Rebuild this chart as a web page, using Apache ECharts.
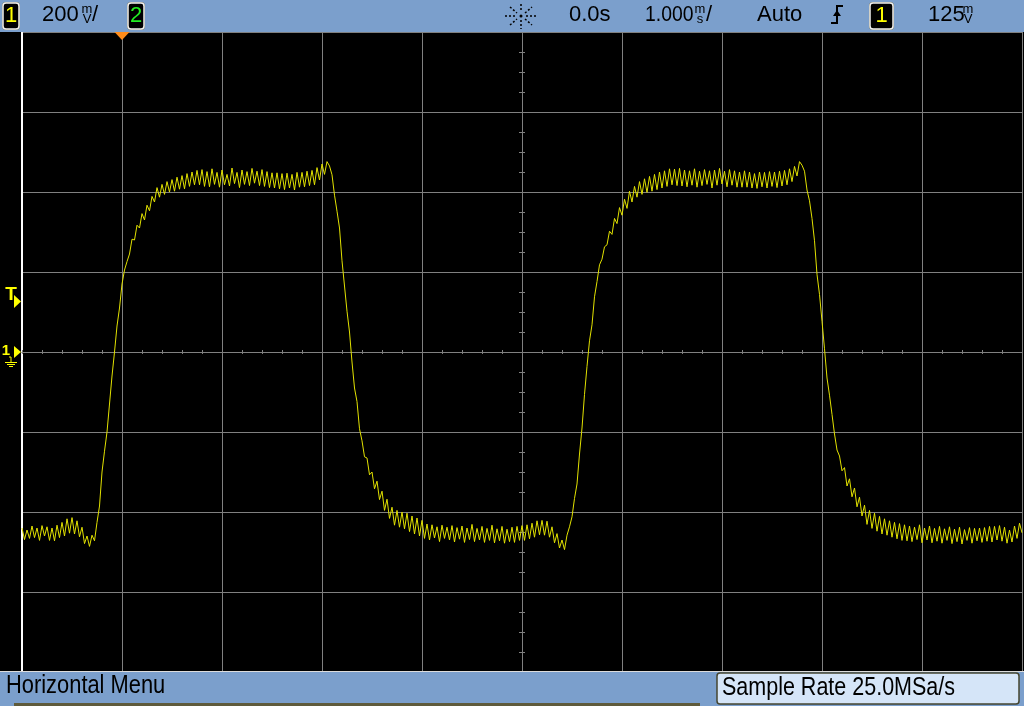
<!DOCTYPE html>
<html>
<head>
<meta charset="utf-8">
<title>Channel 1 capture</title>
<script src="https://cdn.jsdelivr.net/npm/echarts@6/dist/echarts.min.js"></script>
<style>
  html, body { margin: 0; padding: 0; background: #000; }
  #scope { width: 1024px; height: 706px; }
</style>
</head>
<body>
<div id="scope"></div>
<script>
// screen: 10 div x 1 ms, 8 div x 200 mV, trigger one division from the left
const timeRangeMs = [-1, 9]
const timePerDivMs = 1
const voltRangeMv = [-800, 800]
const voltPerDivMv = 200
const triggerLevelMv = 125

// channel 1 trace, one sample every 0.025 ms from -1 ms
const sampleStartMs = -1
const sampleStepMs = 0.025
const ch1Mv = [
  -440, -469, -445, -466, -435, -464, -440, -471, -434, -460,
  -437, -471, -440, -472, -433, -464, -426, -460, -417, -453,
  -414, -455, -422, -462, -438, -479, -460, -486, -458, -472,
  -426, -385, -300, -248, -200, -130, -60, 0, 65, 110,
  170, 205, 226, 245, 282, 280, 317, 310, 346, 330,
  367, 353, 389, 375, 411, 387, 419, 394, 426, 400,
  431, 402, 437, 407, 441, 408, 446, 414, 450, 418,
  454, 418, 456, 414, 451, 413, 458, 419, 449, 412,
  455, 418, 444, 415, 460, 421, 449, 411, 455, 419,
  451, 416, 459, 422, 452, 416, 456, 414, 451, 411,
  448, 410, 448, 408, 446, 406, 447, 410, 444, 405,
  449, 412, 449, 413, 452, 416, 454, 418, 461, 430,
  470, 444, 476, 465, 443, 392, 352, 310, 228, 165,
  102, 50, -25, -90, -124, -192, -222, -262, -265, -307,
  -300, -342, -323, -369, -348, -396, -368, -416, -388, -433,
  -396, -438, -400, -442, -403, -449, -410, -455, -415, -460,
  -421, -466, -430, -470, -432, -465, -437, -474, -433, -466,
  -438, -470, -434, -475, -439, -468, -435, -476, -440, -469,
  -431, -474, -441, -470, -436, -476, -441, -471, -433, -477,
  -442, -472, -436, -478, -443, -474, -438, -476, -436, -471,
  -434, -471, -432, -467, -428, -463, -422, -457, -421, -458,
  -423, -463, -437, -477, -454, -490, -470, -494, -458, -437,
  -412, -366, -330, -255, -190, -106, -36, 28, 68, 138,
  176, 218, 232, 263, 268, 302, 294, 334, 321, 361,
  342, 382, 359, 402, 375, 414, 387, 426, 394, 433,
  399, 439, 402, 444, 406, 450, 410, 453, 414, 458,
  418, 457, 416, 459, 415, 455, 413, 453, 417, 458,
  412, 452, 416, 456, 419, 453, 410, 455, 417, 459,
  420, 452, 413, 456, 417, 453, 412, 450, 412, 453,
  412, 450, 410, 446, 409, 450, 413, 449, 410, 451,
  414, 450, 411, 452, 415, 454, 418, 458, 426, 464,
  440, 476, 467, 452, 405, 378, 334, 278, 194, 144,
  77, 8, -65, -108, -156, -205, -245, -260, -297, -289,
  -335, -317, -362, -340, -387, -363, -410, -383, -431, -396,
  -441, -403, -448, -411, -455, -417, -458, -422, -463, -426,
  -467, -429, -471, -432, -472, -435, -474, -438, -469, -432,
  -477, -440, -470, -435, -477, -441, -473, -436, -478, -442,
  -471, -437, -479, -443, -474, -438, -480, -444, -471, -439,
  -478, -441, -472, -440, -476, -439, -473, -436, -475, -436,
  -470, -434, -473, -438, -478, -445, -475, -435, -466, -428,
  -452
]

const points = ch1Mv.map((v, i) => [sampleStartMs + i * sampleStepMs, v])

const gridGray = '#808080'
const barBlue = '#7b9fcc'
const traceYellow = '#e2e200'
const fontFamily = "'Liberation Sans', Arial, sans-serif"

const chart = echarts.init(document.getElementById('scope'))

// center cross ticks: 5 per time div, 4 per volt div, on both sides
function timeAxis(position, withGrid) {
  return {
    type: 'value',
    min: timeRangeMs[0],
    max: timeRangeMs[1],
    interval: timePerDivMs,
    position: position,
    axisLine: { show: true, onZero: true, lineStyle: { color: gridGray, width: 1 } },
    axisTick: { show: true, length: 2, lineStyle: { color: gridGray } },
    minorTick: { show: true, splitNumber: 5, length: 2, lineStyle: { color: gridGray } },
    axisLabel: { show: false },
    splitLine: { show: withGrid, lineStyle: { color: gridGray, width: 1 } }
  }
}

function voltTickAxis(position) {
  return {
    type: 'value',
    min: voltRangeMv[0],
    max: voltRangeMv[1],
    interval: voltPerDivMv,
    position: position,
    offset: -500,
    axisLine: { show: true, onZero: false, lineStyle: { color: gridGray, width: 1 } },
    axisTick: { show: true, length: 3, lineStyle: { color: gridGray } },
    minorTick: { show: true, splitNumber: 4, length: 3, lineStyle: { color: gridGray } },
    axisLabel: { show: false },
    splitLine: { show: false }
  }
}

chart.setOption({
  backgroundColor: '#000',
  animation: false,
  grid: { left: 22, right: 2, top: 32, bottom: 34 },
  xAxis: [timeAxis('bottom', true), timeAxis('top', false)],
  yAxis: [
    {
      type: 'value',
      min: voltRangeMv[0],
      max: voltRangeMv[1],
      interval: voltPerDivMv,
      position: 'left',
      axisLine: { show: true, onZero: false, lineStyle: { color: '#ffffff', width: 2 } },
      axisTick: { show: false },
      axisLabel: { show: false },
      splitLine: { show: true, lineStyle: { color: gridGray, width: 1 } }
    },
    voltTickAxis('left'),
    voltTickAxis('right')
  ],
  series: [
    {
      name: 'Channel 1',
      type: 'line',
      xAxisIndex: 0,
      yAxisIndex: 0,
      data: points,
      showSymbol: false,
      symbol: 'none',
      silent: true,
      z: 5,
      lineStyle: { color: traceYellow, width: 1 }
    }
  ]
})

function txt(text, x, y, o) {
  o = o || {}
  return {
    type: 'text',
    x: x,
    y: y,
    scaleX: o.sx || 1,
    z: 20,
    style: {
      text: text,
      fill: o.color || '#000',
      font: (o.weight || 'normal') + ' ' + (o.size || 22) + 'px ' + fontFamily,
      textAlign: o.align || 'left',
      align: o.align || 'left',
      textVerticalAlign: 'middle',
      verticalAlign: 'middle'
    }
  }
}

function chanBox(x, w, label, color) {
  return [
    { type: 'rect', z: 15, shape: { x: x - 1, y: 2, width: w + 2, height: 28, r: 4 }, style: { fill: '#6f6a45' } },
    { type: 'rect', z: 16, shape: { x: x, y: 3, width: w, height: 26, r: 3 }, style: { fill: '#000', stroke: '#f2f2f2', lineWidth: 1.5 } },
    txt(label, x + w / 2, 16, { color: color, align: 'center' })
  ]
}

const trigX = chart.convertToPixel({ xAxisIndex: 0 }, 0)
const trigY = chart.convertToPixel({ yAxisIndex: 0 }, triggerLevelMv)
const gndY = chart.convertToPixel({ yAxisIndex: 0 }, 0)
const yellow = '#ffff00'

// acquisition "running" sparkle
const cx = 521, cy = 16
const sparkle = [[-16, 0, -5, 0], [5, 0, 16, 0], [0, -12, 0, -4], [0, 4, 0, 13],
  [-11, -9, -4, -3], [4, -3, 11, -9], [-11, 9, -4, 3], [4, 3, 11, 9]].map(s => ({
  type: 'line', z: 20,
  shape: { x1: cx + s[0], y1: cy + s[1], x2: cx + s[2], y2: cy + s[3] },
  style: { stroke: '#000', lineWidth: 1.5, lineDash: [2, 2] }
}))

const graphic = [
  // status bar and menu bar
  { type: 'rect', z: 10, shape: { x: 0, y: 0, width: 1024, height: 32 }, style: { fill: barBlue } },
  { type: 'rect', z: 10, shape: { x: 0, y: 672, width: 1024, height: 34 }, style: { fill: barBlue } },
  { type: 'line', z: 11, shape: { x1: 0, y1: 671.5, x2: 1024, y2: 671.5 }, style: { stroke: '#dcdcdc', lineWidth: 1 } },
  { type: 'rect', z: 11, shape: { x: 14, y: 703, width: 686, height: 3 }, style: { fill: '#5f5b3b' } },

  ...chanBox(3, 16, '1', yellow),
  txt('200', 42, 15),
  txt('m', 87, 9, { size: 13, align: 'center' }),
  txt('V', 87, 19, { size: 13, align: 'center' }),
  txt('/', 92, 15),
  ...chanBox(128, 16, '2', '#22ee22'),

  ...sparkle,
  { type: 'circle', z: 20, shape: { cx: cx, cy: cy, r: 1.5 }, style: { fill: '#000' } },
  txt('0.0s', 569, 15),
  txt('1.000', 645, 15, { sx: 0.88 }),
  txt('m', 700, 9, { size: 13, align: 'center' }),
  txt('s', 700, 19, { size: 13, align: 'center' }),
  txt('/', 706, 15),
  txt('Auto', 757, 15),
  { type: 'polyline', z: 20, shape: { points: [[831, 23], [837, 23], [837, 6], [843, 6]] }, style: { stroke: '#000', lineWidth: 2, fill: null } },
  { type: 'polygon', z: 20, shape: { points: [[833, 16], [841, 16], [837, 10]] }, style: { fill: '#000' } },
  ...chanBox(870, 23, '1', yellow),
  txt('125', 928, 15),
  txt('m', 968, 9, { size: 13, align: 'center' }),
  txt('V', 968, 19, { size: 13, align: 'center' }),

  txt('Horizontal Menu', 6, 686, { size: 25, sx: 0.875 }),
  { type: 'rect', z: 15, shape: { x: 717, y: 673, width: 302, height: 31, r: 3 }, style: { fill: '#d5e5f8', stroke: '#46452f', lineWidth: 1.5 } },
  txt('Sample Rate 25.0MSa/s', 722, 688, { size: 25, sx: 0.86 }),

  // trigger position marker
  { type: 'polygon', z: 20, shape: { points: [[trigX - 7.5, 32], [trigX + 7.5, 32], [trigX, 40]] }, style: { fill: '#ff8c1a' } },

  // trigger level marker
  txt('T', 11, trigY - 7, { color: yellow, size: 19, weight: 'bold', align: 'center' }),
  { type: 'polygon', z: 20, shape: { points: [[14, trigY - 7], [21, trigY - 0.5], [14, trigY + 6]] }, style: { fill: yellow } },

  // channel 1 ground marker
  txt('1', 6, gndY - 1, { color: yellow, size: 15, weight: 'bold', align: 'center' }),
  { type: 'polygon', z: 20, shape: { points: [[14, gndY - 6], [21, gndY], [14, gndY + 6]] }, style: { fill: yellow } },
  { type: 'polyline', z: 20, shape: { points: [[9, gndY + 5], [11, gndY + 5], [11, gndY + 10]] }, style: { stroke: yellow, lineWidth: 1, fill: null } },
  { type: 'line', z: 20, shape: { x1: 5, y1: gndY + 10.5, x2: 17, y2: gndY + 10.5 }, style: { stroke: yellow, lineWidth: 1 } },
  { type: 'line', z: 20, shape: { x1: 7, y1: gndY + 12.5, x2: 15, y2: gndY + 12.5 }, style: { stroke: yellow, lineWidth: 1 } },
  { type: 'line', z: 20, shape: { x1: 9, y1: gndY + 14.5, x2: 13, y2: gndY + 14.5 }, style: { stroke: yellow, lineWidth: 1 } }
]

chart.setOption({ graphic: graphic })
</script>
</body>
</html>
